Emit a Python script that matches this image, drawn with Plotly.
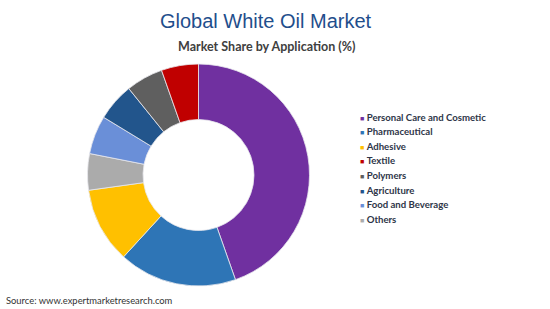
import plotly.graph_objects as go

# Slice order (clockwise from 12 o'clock)
slice_labels = ["Personal Care and Cosmetic", "Pharmaceutical", "Adhesive", "Others",
                "Food and Beverage", "Agriculture", "Polymers", "Textile"]
slice_values = [44.6, 17.2, 11.0, 5.3, 5.6, 5.5, 5.4, 5.4]

# Legend order
legend_labels = ["Personal Care and Cosmetic", "Pharmaceutical", "Adhesive", "Textile",
                 "Polymers", "Agriculture", "Food and Beverage", "Others"]

color_map = {
    "Personal Care and Cosmetic": "#7030A0",
    "Pharmaceutical": "#2E75B6",
    "Adhesive": "#FFC000",
    "Textile": "#C00000",
    "Polymers": "#5F5F5F",
    "Agriculture": "#22558C",
    "Food and Beverage": "#6A8FD8",
    "Others": "#ABABAB",
}

W, H = 550, 309
cx, cy, r = 198.5, 175, 111

fig = go.Figure()
fig.add_trace(go.Pie(
    labels=slice_labels, values=slice_values, sort=False, direction="clockwise",
    rotation=0, hole=0.5, textinfo="none", hoverinfo="label+percent",
    marker=dict(colors=[color_map[l] for l in slice_labels],
                line=dict(color="#E8E8EE", width=0.8)),
    domain=dict(x=[(cx - r) / W, (cx + r) / W], y=[1 - (cy + r) / H, 1 - (cy - r) / H]),
    showlegend=False,
))

annotations = [
    dict(text="Global White Oil Market", x=266 / W, y=1 - 21 / H, xref="paper", yref="paper",
         xanchor="center", yanchor="middle", showarrow=False,
         font=dict(family="Liberation Sans", size=20, color="#1F4E8C")),
    dict(text="<b>Market Share by Application (%)</b>", x=266 / W, y=1 - 46 / H, xref="paper", yref="paper",
         xanchor="center", yanchor="middle", showarrow=False,
         font=dict(family="Lato", size=12.5, color="#404040")),
    dict(text="Source: www.expertmarketresearch.com", x=4 / W, y=1 - 300 / H, xref="paper", yref="paper",
         xanchor="left", yanchor="middle", showarrow=False,
         font=dict(family="Lato", size=9.4, color="#333333")),
]

y0, dy = 117, 14.6
for i, lab in enumerate(legend_labels):
    yy = y0 + i * dy
    annotations.append(dict(
        text=f"<span style='color:{color_map[lab]};font-size:7px'>■</span> <b>{lab}</b>",
        x=358 / W, y=1 - yy / H, xref="paper", yref="paper", xanchor="left", yanchor="middle",
        showarrow=False, font=dict(family="Lato", size=9.6, color="#2E3548")))

fig.update_layout(
    width=W, height=H, margin=dict(l=0, r=0, t=0, b=0),
    paper_bgcolor="white", plot_bgcolor="white",
    annotations=annotations, showlegend=False,
)

fig.write_html("out.html")
